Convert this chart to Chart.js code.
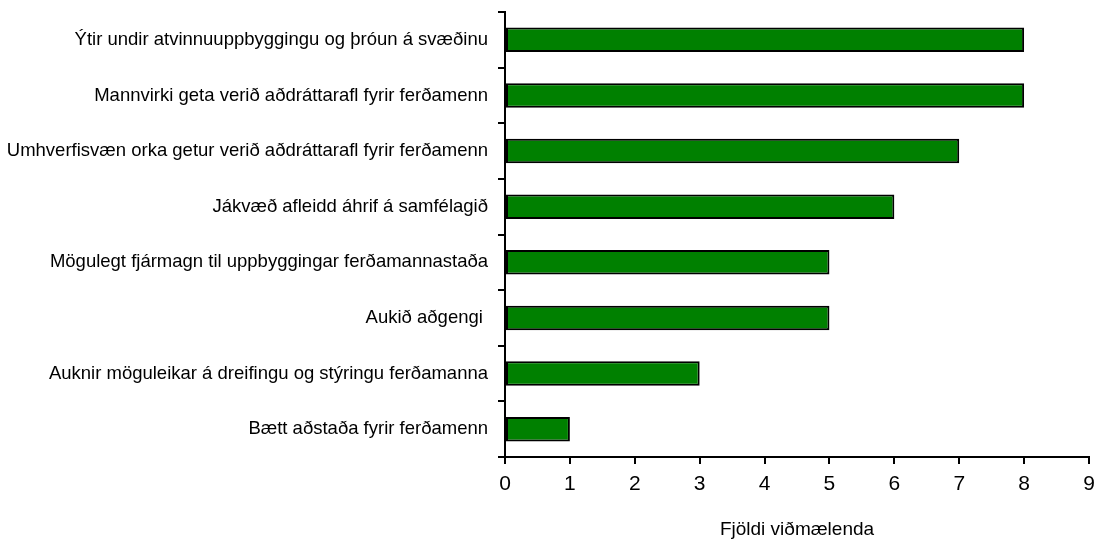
<!DOCTYPE html>
<html>
<head>
<meta charset="utf-8">
<script src="https://cdn.jsdelivr.net/npm/chart.js@4/dist/chart.umd.min.js"></script>
<style>
  html, body { margin: 0; padding: 0; background: #fff; }
  #wrap { width: 1095px; height: 541px; }
</style>
</head>
<body>
<div id="wrap"><canvas id="myChart" width="1095" height="541"></canvas></div>
<script>
const categories = [
  "Ýtir undir atvinnuuppbyggingu og þróun á svæðinu",
  "Mannvirki geta verið aðdráttarafl fyrir ferðamenn",
  "Umhverfisvæn orka getur verið aðdráttarafl fyrir ferðamenn",
  "Jákvæð afleidd áhrif á samfélagið",
  "Mögulegt fjármagn til uppbyggingar ferðamannastaða",
  "Aukið aðgengi ",
  "Auknir möguleikar á dreifingu og stýringu ferðamanna",
  "Bætt aðstaða fyrir ferðamenn"
];
const counts = [8, 8, 7, 6, 5, 5, 3, 1];
const xTicks = [0, 1, 2, 3, 4, 5, 6, 7, 8, 9];
const xTitle = "Fjöldi viðmælenda";

Chart.defaults.font.family = "'Liberation Sans', Arial, sans-serif";
Chart.defaults.color = "#000";

const chart = new Chart(document.getElementById("myChart"), {
  type: "bar",
  data: {
    labels: categories,
    datasets: [
      {
        data: counts,
        backgroundColor: "#008000",
        borderColor: "#000",
        borderWidth: 2,
        borderSkipped: false,
        categoryPercentage: 1,
        barPercentage: 0.44,
      },
    ],
  },
  options: {
    indexAxis: "y",
    responsive: false,
    animation: false,
    layout: { padding: { left: 0, right: 6, top: 12, bottom: 0 } },
    plugins: { legend: { display: false }, tooltip: { enabled: false } },
    scales: {
      x: {
        min: 0,
        max: 9,
        afterBuildTicks: (axis) => {
          axis.ticks = xTicks.map((v) => ({ value: v }));
        },
        afterFit: (axis) => {
          axis.height = 84;
          axis.paddingLeft = 0;
          axis.paddingRight = 0;
        },
        border: { color: "#000", width: 2 },
        grid: { drawOnChartArea: false, color: "#000", tickLength: 7, lineWidth: 2 },
        ticks: { font: { size: 21 }, padding: 8 },
        title: {
          display: true,
          text: xTitle,
          font: { size: 19 },
          padding: { top: 0, bottom: 0 },
        },
      },
      y: {
        afterFit: (axis) => {
          axis.width = 505;
          axis.paddingTop = 0;
          axis.paddingBottom = 0;
        },
        border: { color: "#000", width: 2 },
        grid: { offset: true, drawOnChartArea: false, color: "#000", tickLength: 7, lineWidth: 2 },
        ticks: { font: { size: 18.5 }, padding: 10 },
      },
    },
  },
});
</script>
</body>
</html>
